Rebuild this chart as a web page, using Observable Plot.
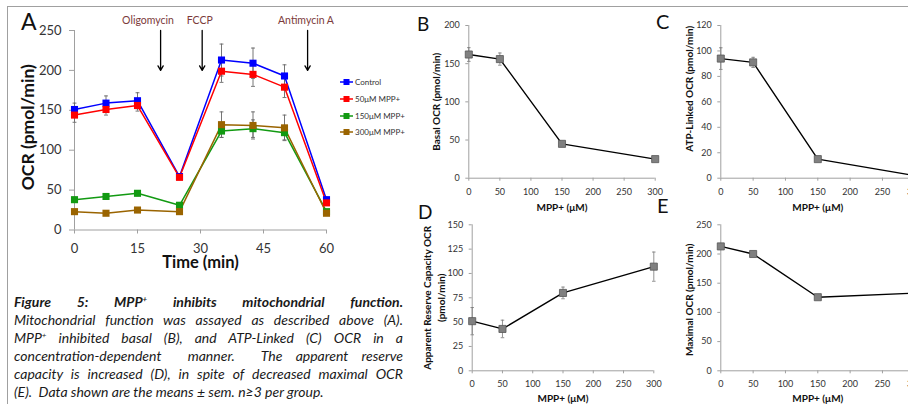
<!DOCTYPE html>
<html><head><meta charset="utf-8">
<script src="https://cdn.jsdelivr.net/npm/d3@7"></script>
<script src="https://cdn.jsdelivr.net/npm/@observablehq/plot@0.6"></script>
<style>
html,body{margin:0;padding:0;width:908px;height:411px;overflow:hidden;background:#fff;font-family:Lato,sans-serif;}
.abs{position:absolute;}
#caption{left:14px;top:293px;width:389px;font-style:italic;font-size:14px;line-height:18px;color:#1a1a1a;}
#caption div{text-align:justify;text-align-last:justify;white-space:nowrap;}
#caption div.last{text-align:left;text-align-last:left;}
#caption sup{font-size:8px;line-height:0;vertical-align:5px;}
#legend{left:340px;top:74px;font-size:8px;color:#333;}
#legend .row{display:flex;align-items:center;height:16.7px;}
#legend svg{margin-right:2px;}
</style></head><body>
<script>
// ---------- Panel A data ----------
const timesMin = [0, 7.5, 15, 25, 35, 42.5, 50, 60];
const timeTicks = [0, 15, 30, 45, 60];
const ocrTicks = [0, 50, 100, 150, 200, 250];
const seriesNames = ["Control", "50μM MPP+", "150μM MPP+", "300μM MPP+"];
const seriesColors = ["#0000ff", "#ff0000", "#129a12", "#9a6400"];
const ocrControl = [151, 159, 162, 67, 213, 209, 193, 38];
const semControl = [8, 9, 10, 3, 20, 19, 14, 3];
const ocr50 = [144, 151, 156, 66, 199, 195, 179, 34];
const sem50 = [9, 7, 7, 3, 14, 15, 13, 3];
const ocr150 = [38, 42, 46, 31, 124, 127, 122, 23];
const sem150 = [3, 3, 3, 3, 8, 11, 9, 2];
const ocr300 = [23, 21, 25, 23, 132, 131, 128, 21];
const sem300 = [2, 2, 2, 2, 16, 17, 16, 2];
const injectionNames = ["Oligomycin", "FCCP", "Antimycin A"];
const injectionTimes = [20.5, 30.4, 55.5];

// ---------- Panels B-E data ----------
const mppConc = [0, 50, 150, 300];
const mppTicks = [0, 50, 100, 150, 200, 250, 300];
const basalOCR = [162, 156, 45, 25];
const basalSEM = [9, 8, 2, 2];
const basalTicks = [0, 50, 100, 150, 200];
const atpOCR = [94, 91, 15, 2];
const atpSEM = [8.5, 4, 1.5, 1];
const atpTicks = [0, 20, 40, 60, 80, 100, 120];
const reserveOCR = [51, 43, 80, 107];
const reserveSEM = [14, 9, 6, 15];
const reserveTicks = [0, 25, 50, 75, 100, 125, 150];
const maximalOCR = [213, 200, 126, 133];
const maximalSEM = [2, 2, 2, 2];
const maximalTicks = [0, 50, 100, 150, 200, 250];

const capSymbol = {draw(ctx, size) { const w = Math.sqrt(size) / 2; ctx.moveTo(-w, 0); ctx.lineTo(w, 0); }};

function place(el, left, top) {
  const d = document.createElement("div");
  d.className = "abs"; d.style.left = left + "px"; d.style.top = top + "px";
  d.appendChild(el); document.body.appendChild(d); return d;
}
function grayTicks(svg, c) {
  d3.select(svg).selectAll('[aria-label$="tick"]').attr("stroke", c);
}

// ---------- Panel A ----------
const seriesVals = [ocrControl, ocr50, ocr150, ocr300];
const seriesSems = [semControl, sem50, sem150, sem300];
const rowsA = seriesNames.flatMap((s, k) => timesMin.map((t, i) => ({series: s, t, v: seriesVals[k][i], e: seriesSems[k][i]})));
const injections = injectionNames.map((name, i) => ({name, time: injectionTimes[i]}));
const labelDx = [-12.6, -2.4, -1.6];
const arrowLen = 50;

const plotA = Plot.plot({
  width: 340, height: 275,
  marginLeft: 74, marginRight: 14, marginTop: 30, marginBottom: 45.5,
  x: {domain: [0, 60], ticks: timeTicks, tickSize: 4, tickPadding: 10, label: null},
  y: {domain: [0, 250], ticks: ocrTicks, tickSize: 5, tickPadding: 8, label: null},
  color: {domain: seriesNames, range: seriesColors},
  style: {fontFamily: "Lato", fontSize: "13px", color: "#333", background: "transparent", overflow: "visible", maxWidth: "none"},
  marks: [
    Plot.ruleY([0], {stroke: "#a0a0a0"}),
    Plot.ruleX([0], {stroke: "#a0a0a0"}),
    Plot.ruleX(rowsA, {x: "t", y1: d => d.v - d.e, y2: d => d.v + d.e, stroke: "#666", strokeWidth: 0.9}),
    Plot.dot(rowsA, {x: "t", y: d => d.v + d.e, symbol: capSymbol, r: 2.2, stroke: "#666", fill: "none", strokeWidth: 0.9}),
    Plot.dot(rowsA, {x: "t", y: d => d.v - d.e, symbol: capSymbol, r: 2.2, stroke: "#666", fill: "none", strokeWidth: 0.9}),
    ...seriesNames.map(s => Plot.line(rowsA.filter(d => d.series === s), {x: "t", y: "v", stroke: "series", strokeWidth: 1.5})),
    ...seriesNames.map(s => Plot.dot(rowsA.filter(d => d.series === s), {x: "t", y: "v", fill: "series", symbol: "square", r: 4})),
    Plot.arrow(injections, {x: "time", y1: () => ocrTicks[ocrTicks.length - 1], y2: () => ocrTicks[ocrTicks.length - 1] - arrowLen, stroke: "#000", strokeWidth: 1.3, headLength: 6}),
    ...injections.map((d, i) => Plot.text([d], {x: "time", frameAnchor: "top", lineAnchor: "middle", dy: -9.5, dx: labelDx[i], text: "name", fill: "#7b3a3a", fontSize: 10.5})),
    Plot.text(["Time (min)"], {frameAnchor: "bottom", lineAnchor: "middle", textAnchor: "middle", dy: 32.5, fontWeight: "bold", fontSize: 16.5, fill: "#111"}),
    Plot.text(["OCR (pmol/min)"], {frameAnchor: "left", lineAnchor: "middle", textAnchor: "middle", dx: -46, dy: -3, rotate: -90, fontWeight: "bold", fontSize: 17.5, fill: "#111"})
  ]
});
grayTicks(plotA, "#a0a0a0");
place(plotA, 0, 0);

// legend
const legend = document.createElement("div");
legend.id = "legend"; legend.className = "abs";
seriesNames.forEach((s, k) => {
  const row = document.createElement("div"); row.className = "row";
  row.innerHTML = `<svg width="13" height="8"><line x1="0" y1="4" x2="13" y2="4" stroke="${seriesColors[k]}" stroke-width="1.5"/><rect x="3.5" y="1" width="6" height="6" fill="${seriesColors[k]}"/></svg><span>${s}</span>`;
  legend.appendChild(row);
});
document.body.appendChild(legend);

// ---------- Small panels ----------
function smallPanel(vals, errs, ticks, title, o) {
  const rows = mppConc.map((c, i) => ({c, v: vals[i], e: errs[i]}));
  const svg = Plot.plot({
    width: o.w, height: o.h,
    marginLeft: o.ml, marginRight: o.mr, marginTop: o.mt, marginBottom: o.mb,
    x: {domain: [0, 300], ticks: mppTicks, tickSize: 3, tickPadding: 7, label: null},
    y: {domain: [0, ticks[ticks.length - 1]], ticks, tickSize: 3, tickPadding: 6, label: null},
    style: {fontFamily: "Lato", fontSize: "9px", color: "#333", background: "transparent", overflow: "visible", maxWidth: "none"},
    marks: [
      Plot.ruleY([0], {stroke: "#a0a0a0"}),
      Plot.ruleX([0], {stroke: "#a0a0a0"}),
      Plot.ruleX(rows, {x: "c", y1: d => d.v - d.e, y2: d => d.v + d.e, stroke: "#777", strokeWidth: 0.8}),
      Plot.dot(rows, {x: "c", y: d => d.v + d.e, symbol: capSymbol, r: 2, stroke: "#777", fill: "none", strokeWidth: 0.8}),
      Plot.dot(rows, {x: "c", y: d => d.v - d.e, symbol: capSymbol, r: 2, stroke: "#777", fill: "none", strokeWidth: 0.8}),
      Plot.line(rows, {x: "c", y: "v", stroke: "#000", strokeWidth: 1.4}),
      Plot.dot(rows, {x: "c", y: "v", symbol: "square", r: 4, fill: "#808080", stroke: "#555", strokeWidth: 0.8}),
      Plot.text(["MPP+ (μM)"], {frameAnchor: "bottom", lineAnchor: "middle", textAnchor: "middle", dy: o.xdy, fontWeight: "bold", fontSize: 10, fill: "#111"}),
      Plot.text([title], {frameAnchor: "left", lineAnchor: "middle", textAnchor: "middle", dx: o.ydx, dy: o.ydy || 0, rotate: -90, fontWeight: "bold", fontSize: 10, fill: "#111", lineHeight: 1.45})
    ]
  });
  grayTicks(svg, "#a0a0a0");
  place(svg, o.left, o.top);
}
smallPanel(basalOCR, basalSEM, basalTicks, "Basal OCR (pmol/min)",
  {left: 440, top: 0, w: 225, h: 215, ml: 28.3, mr: 10.3, mt: 25, mb: 37.3, xdy: 29.3, ydx: -33});
smallPanel(atpOCR, atpSEM, atpTicks, "ATP-Linked OCR (pmol/min)",
  {left: 680, top: 0, w: 245, h: 215, ml: 40.3, mr: 10.7, mt: 25, mb: 37.3, xdy: 29.3, ydx: -32.5, ydy: -13});
smallPanel(reserveOCR, reserveSEM, reserveTicks, "Apparent Reserve Capacity OCR\n(pmol/min)",
  {left: 440, top: 200, w: 225, h: 215, ml: 31.7, mr: 11.7, mt: 24.3, mb: 44.7, xdy: 27.7, ydx: -39});
smallPanel(maximalOCR, maximalSEM, maximalTicks, "Maximal OCR (pmol/min)",
  {left: 680, top: 200, w: 245, h: 215, ml: 40.3, mr: 10.7, mt: 24.3, mb: 44.7, xdy: 27.7, ydx: -32.5, ydy: 2});

// ---------- Overlay: frame lines and panel letters ----------
const ov = d3.create("svg").attr("width", 908).attr("height", 411)
  .style("position", "absolute").style("left", 0).style("top", 0).style("pointer-events", "none");
ov.append("line").attr("x1", 7).attr("x2", 908).attr("y1", 6.5).attr("y2", 6.5).attr("stroke", "#a0a0a0");
ov.append("line").attr("x1", 7.5).attr("x2", 7.5).attr("y1", 6).attr("y2", 404).attr("stroke", "#a0a0a0");
const letters = [["A", 21, 29.5, 23], ["B", 417, 31, 19], ["C", 656, 28.5, 20], ["D", 418, 218.5, 19], ["E", 657, 213, 20]];
letters.forEach(([t, x, y, s]) => ov.append("text").attr("x", x).attr("y", y).attr("font-family", "Lato").attr("font-size", s).attr("fill", "#111").text(t));
document.body.appendChild(ov.node());

// ---------- Caption ----------
const cap = document.createElement("div");
cap.id = "caption"; cap.className = "abs";
cap.innerHTML = [
  '<div><b>Figure 5: MPP<sup>+</sup> inhibits mitochondrial function.</b></div>',
  '<div>Mitochondrial function was assayed as described above (A).</div>',
  '<div>MPP<sup>+</sup> inhibited basal (B), and ATP-Linked (C) OCR in a</div>',
  '<div>concentration-dependent&nbsp; manner.&nbsp; The apparent reserve</div>',
  '<div>capacity is increased (D), in spite of decreased maximal OCR</div>',
  '<div class="last">(E).&nbsp; Data shown are the means ± sem. n≥3 per group.</div>'
].join("");
document.body.appendChild(cap);
</script>
</body></html>
